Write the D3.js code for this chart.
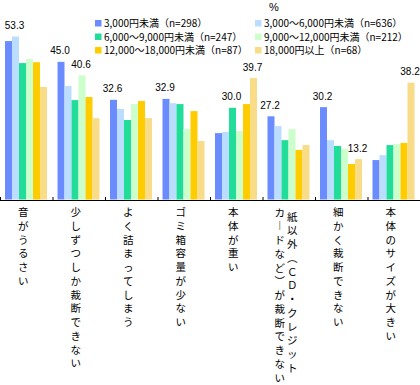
<!DOCTYPE html>
<html>
<head>
<meta charset="utf-8">
<script src="https://cdn.jsdelivr.net/npm/d3@7"></script>
<style>
  body { margin: 0; background: #fff; }
  svg { display: block; }
</style>
</head>
<body>
<svg id="chart" width="420" height="385"></svg>
<script>
// categories (x axis, one per group)
const categories = [
  "音がうるさい",
  "少しずつしか裁断できない",
  "よく詰まってしまう",
  "ゴミ箱容量が少ない",
  "本体が重い",
  "紙以外（ＣＤ・クレジットカードなど）が裁断できない",
  "細かく裁断できない",
  "本体のサイズが大きい"
];

// series names (legend)
const seriesNames = [
  "3,000円未満（n=298）",
  "3,000～6,000円未満（n=636）",
  "6,000～9,000円未満（n=247）",
  "9,000～12,000円未満（n=212）",
  "12,000～18,000円未満（n=87）",
  "18,000円以上（n=68）"
];

const seriesColors = ["#6b8cff", "#bbddff", "#22dd99", "#ccffcc", "#ffcc00", "#f8dc88"];

// values in %, one array per series
const under3000 = [51.8, 45.0, 32.6, 32.9, 21.7, 27.2, 30.2, 12.9];
const from3000 = [53.3, 37.1, 29.6, 31.5, 22.1, 24.0, 19.4, 14.5];
const from6000 = [44.6, 32.5, 26.0, 31.2, 30.0, 19.4, 17.5, 17.8];
const from9000 = [45.9, 40.6, 31.2, 23.0, 22.4, 23.0, 16.5, 18.1];
const from12000 = [44.9, 33.5, 32.2, 28.9, 31.2, 16.2, 11.6, 18.5];
const over18000 = [36.8, 26.6, 26.6, 19.1, 39.7, 17.8, 13.2, 38.2];
const seriesValues = [under3000, from3000, from6000, from9000, from12000, over18000];

// bars that carry a value label: [category index, series index]
const labeledBars = [[0, 1], [1, 0], [1, 3], [2, 0], [3, 0], [4, 2], [4, 5], [5, 0], [6, 0], [6, 5], [7, 5]];

const width = 420;
const baseY = 199.5;

const svg = d3.select("#chart");

const x0 = d3.scaleBand().domain(d3.range(categories.length)).range([0, width]);
const x1 = d3.scaleBand().domain(d3.range(seriesNames.length)).range([5, 47]);
const y = d3.scaleLinear().domain([0, 60]).range([baseY, 16]);

// bars
const groups = svg.append("g")
  .selectAll("g")
  .data(categories)
  .join("g")
  .attr("transform", (d, i) => `translate(${x0(i)},0)`);

groups.selectAll("rect")
  .data((d, i) => seriesValues.map((vals, s) => ({ s, v: vals[i] })))
  .join("rect")
  .attr("x", (d) => x1(d.s))
  .attr("y", (d) => y(d.v))
  .attr("width", x1.bandwidth())
  .attr("height", (d) => baseY - y(d.v))
  .attr("fill", (d) => seriesColors[d.s]);

// value labels
svg.append("g")
  .selectAll("text")
  .data(labeledBars)
  .join("text")
  .attr("x", (d) => x0(d[0]) + x1(d[1]) + x1.bandwidth() / 2 - 1)
  .attr("y", (d) => y(seriesValues[d[1]][d[0]]) - 7.5)
  .attr("text-anchor", "middle")
  .style("font-family", "'Liberation Sans', Arial, sans-serif")
  .style("font-size", "10px")
  .text((d) => seriesValues[d[1]][d[0]].toFixed(1));

// axis line with small ticks between groups
const axis = svg.append("g");
axis.append("line")
  .attr("x1", 0).attr("x2", width)
  .attr("y1", 200.5).attr("y2", 200.5)
  .attr("stroke", "#000");
axis.selectAll(".tick")
  .data(d3.range(categories.length))
  .join("line")
  .attr("class", "tick")
  .attr("x1", (i) => x0(i) + 0.5).attr("x2", (i) => x0(i) + 0.5)
  .attr("y1", 197).attr("y2", 200)
  .attr("stroke", "#000");

// vertical category labels, one character per line
const vertForms = { "ー": "︱", "（": "︵", "）": "︶" };
const lineStep = 13.75;

function columnsFor(label, i) {
  const cx = x0(i) + x0.bandwidth() / 2;
  if (label.length > 14) {
    // long label wraps into two columns, the first one on the right
    return [
      { chars: label.slice(0, 12), x: cx + 3.5, y: 220.5 },
      { chars: label.slice(12), x: cx - 9, y: 216.5 }
    ];
  }
  return [{ chars: label, x: cx - 3, y: 216 }];
}

const columns = categories.flatMap((label, i) => columnsFor(label, i));

svg.append("g")
  .selectAll("text")
  .data(columns)
  .join("text")
  .attr("y", (d) => d.y)
  .attr("text-anchor", "middle")
  .style("font-family", "'Noto Sans CJK JP', sans-serif")
  .style("font-size", "10.5px")
  .selectAll("tspan")
  .data((d) => Array.from(d.chars).map((ch, k) => ({ ch: vertForms[ch] || ch, x: d.x, k })))
  .join("tspan")
  .attr("x", (t) => t.x)
  .attr("dy", (t) => t.k === 0 ? 0 : lineStep)
  .text((t) => t.ch);

// legend: two columns, series paired row by row
const legend = svg.append("g");
const legendCols = [95, 255];
const legendRows = [20, 33.5, 47];

const items = legend.selectAll("g")
  .data(seriesNames)
  .join("g")
  .attr("transform", (d, i) => `translate(${legendCols[i % 2]},${legendRows[Math.floor(i / 2)]})`);

items.append("rect")
  .attr("width", 6.5)
  .attr("height", 6.5)
  .attr("fill", (d, i) => seriesColors[i]);

items.append("text")
  .attr("x", 9)
  .attr("y", 7)
  .style("font-family", "'Noto Sans CJK JP', sans-serif")
  .style("font-size", "10px")
  .text((d) => d);

svg.append("text")
  .attr("x", 269)
  .attr("y", 10.5)
  .style("font-family", "'Liberation Sans', Arial, sans-serif")
  .style("font-size", "11px")
  .text("%");
</script>
</body>
</html>
